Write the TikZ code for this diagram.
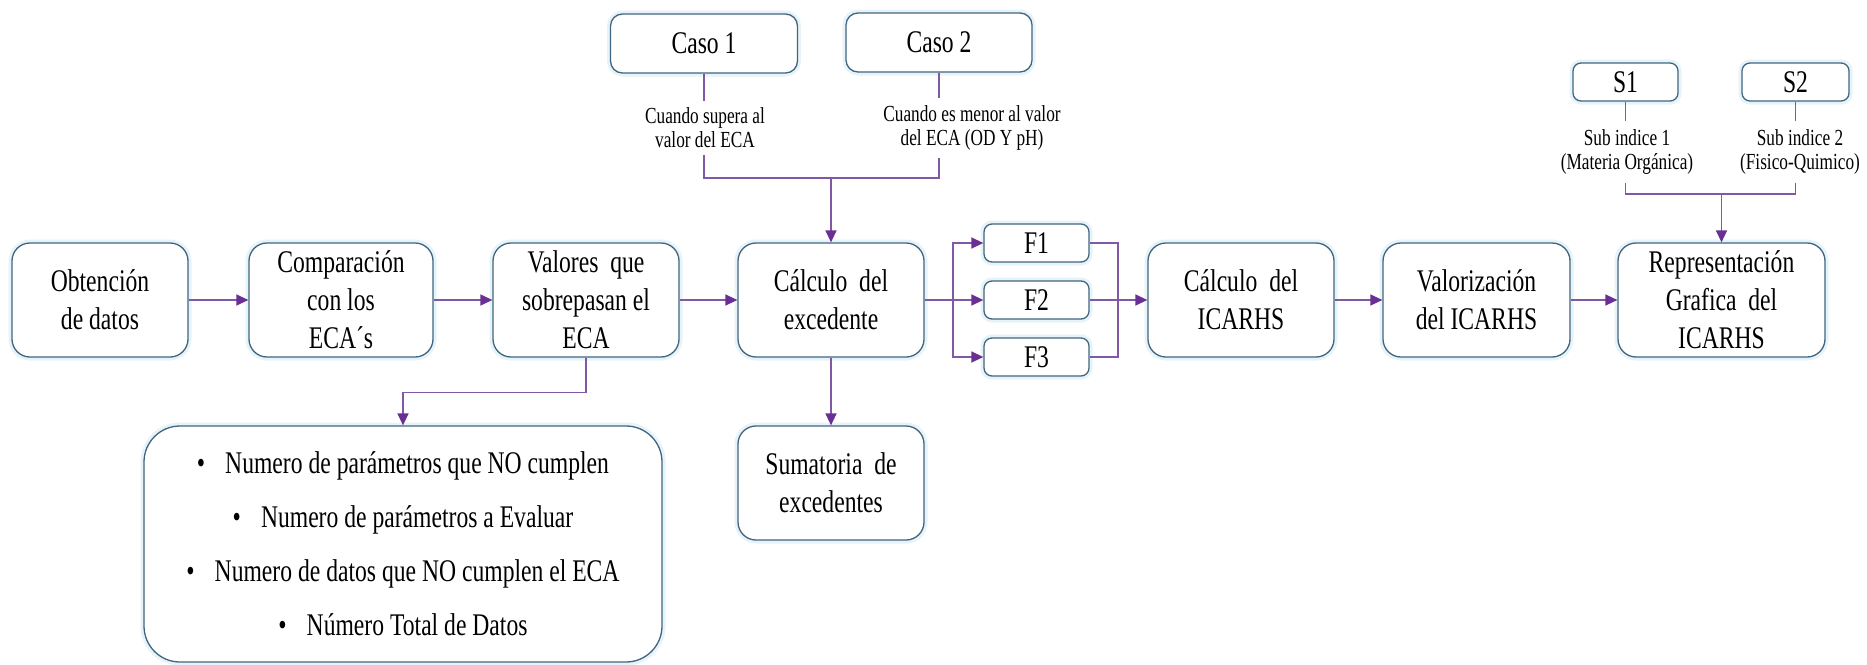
\documentclass[tikz,border=0pt]{standalone}
\usepackage{fontspec}
\setmainfont{Liberation Serif}[FakeStretch=0.75]
\usetikzlibrary{arrows.meta}
\definecolor{boxline}{HTML}{41657F}
\definecolor{flowline}{HTML}{8058A4}
\definecolor{flowtip}{HTML}{6A2F94}
\definecolor{halo}{HTML}{E6F3F8}

\begin{document}
\begin{tikzpicture}[x=1pt,y=-1pt,
  stage/.style={draw=boxline, line width=1.3pt, fill=white, rounded corners=18pt,
    align=center, inner sep=0pt, minimum width=186pt, minimum height=114pt,
    font=\fontsize{31.5}{38}\selectfont, preaction={draw=halo, line width=7pt}},
  smallbox/.style={stage, rounded corners=8pt, minimum width=105pt, minimum height=38pt},
  casebox/.style={stage, rounded corners=12pt, minimum width=187pt, minimum height=59pt},
  listbox/.style={stage, rounded corners=36pt, minimum width=518pt, minimum height=236pt,
    font=\fontsize{31.5}{54}\selectfont},
  note/.style={align=center, inner xsep=0pt, inner ysep=7pt, font=\fontsize{23}{24}\selectfont},
  link/.style={draw=flowline, line width=1.5pt},
  arr/.style={link, -{Triangle[length=12pt,width=11pt,color=flowtip]}}
]
\useasboundingbox (0,0) rectangle (1867,664);
\fill[white] (0,0) rectangle (1867,664);

% main process chain
\node[stage, minimum width=176pt] (obt) at (100,300) {Obtención\\de datos};
\node[stage, minimum width=184pt] (comp) at (341,300) {Comparación\\con los\\ECA´s};
\node[stage] (val) at (586,300) {Valores\ \ que\\sobrepasan el\\ECA};
\node[stage] (calc) at (831,300) {Cálculo\ \ del\\excedente};
\node[smallbox] (f1) at (1036.5,243) {F1};
\node[smallbox] (f2) at (1036.5,300) {F2};
\node[smallbox] (f3) at (1036.5,357) {F3};
\node[stage] (icar) at (1241,300) {Cálculo\ \ del\\ICARHS};
\node[stage, minimum width=187pt] (valor) at (1476.5,300) {Valorización\\del ICARHS};
\node[stage, minimum width=207pt] (repr) at (1721.5,300) {Representación\\Grafica\ \ del\\ICARHS};

% lower boxes
\node[listbox] (lista) at (403,544) {%
  \textbullet\hspace{20pt}Numero de parámetros que NO cumplen\\
  \textbullet\hspace{20pt}Numero de parámetros a Evaluar\\
  \textbullet\hspace{20pt}Numero de datos que NO cumplen el ECA\\
  \textbullet\hspace{20pt}Número Total de Datos};
\node[stage] (suma) at (831,483) {Sumatoria\ \ de\\excedentes};

% cases feeding the surplus calculation
\node[casebox] (caso1) at (704,43.5) {Caso 1};
\node[casebox, minimum width=186pt] (caso2) at (939,42.5) {Caso 2};
\node[note] (c1lab) at (705,128) {Cuando supera al\\valor del ECA};
\node[note] (c2lab) at (972,128) {Cuando es menor al valor\\del ECA (OD Y pH)};
\coordinate (cj) at (831,178);

% sub-indices feeding the graphic representation
\node[smallbox] (s1) at (1625.5,82) {S1};
\node[smallbox, minimum width=107pt] (s2) at (1795.5,82) {S2};
\node[note, inner ysep=8pt] (s1lab) at (1627,152) {Sub indice 1\\(Materia Orgánica)};
\node[note, inner ysep=8pt] (s2lab) at (1800,152) {Sub indice 2\\(Fisico-Quimico)};
\coordinate (sj) at (1721.5,194);

% split and merge points around F1..F3
\coordinate (split) at (953,300);
\coordinate (merge) at (1118,300);

% connectors along the chain
\draw[arr] (obt) -- (comp);
\draw[arr] (comp) -- (val);
\draw[arr] (val) -- (calc);
\draw[link] (calc.east) -- (split);
\draw[arr] (split) |- (f1.west);
\draw[arr] (split) -- (f2.west);
\draw[arr] (split) |- (f3.west);
\draw[link] (f1.east) -| (merge);
\draw[link] (f3.east) -| (merge);
\draw[arr] (f2.east) -- (icar.west);
\draw[arr] (icar) -- (valor);
\draw[arr] (valor) -- (repr);

% branches downwards
\draw[arr] (val.south) -- ++(0,35) -| (lista.north);
\draw[arr] (calc.south) -- (suma.north);

% case connectors
\draw[link] (caso1.south) -- (caso1.south |- c1lab.north);
\draw[link] (caso2.south) -- (caso2.south |- c2lab.north);
\draw[link] (caso1.south |- c1lab.south) |- (cj);
\draw[link] (caso2.south |- c2lab.south) |- (cj);
\draw[arr] (cj) -- (calc.north);

% sub-index connectors
\draw[link] (s1.south) -- (s1.south |- s1lab.north);
\draw[link] (s2.south) -- (s2.south |- s2lab.north);
\draw[link] (s1.south |- s1lab.south) |- (sj);
\draw[link] (s2.south |- s2lab.south) |- (sj);
\draw[arr] (sj) -- (repr.north);
\end{tikzpicture}
\end{document}
